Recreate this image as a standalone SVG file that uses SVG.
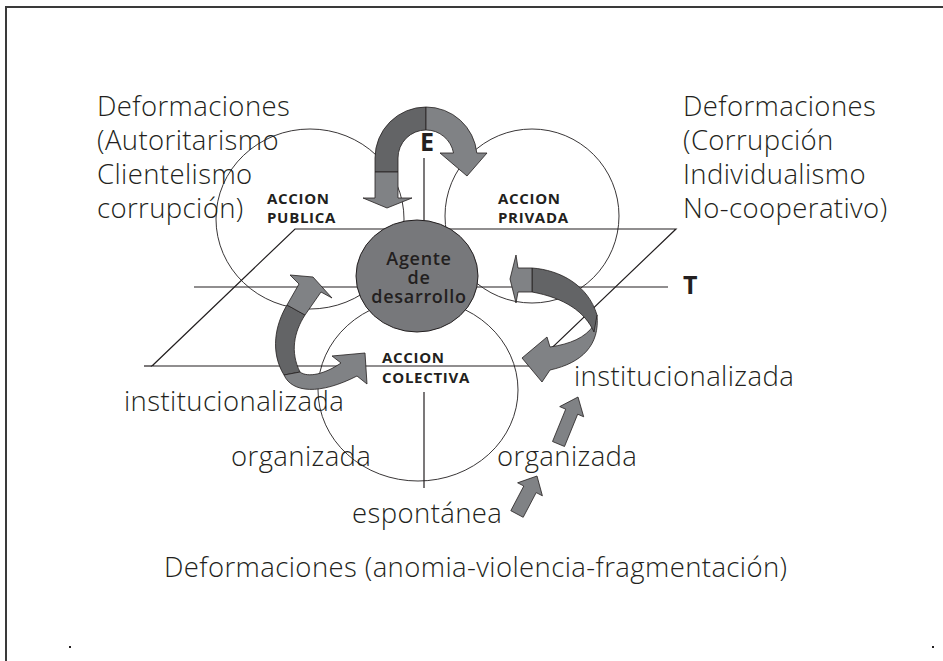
<svg xmlns="http://www.w3.org/2000/svg" width="943" height="661" viewBox="0 0 943 661">
<style>
.frame{stroke:#3a3a3a;stroke-width:2;fill:none}
.ln{stroke:#231f20;stroke-width:1.2;fill:none}
.circ{stroke:#231f20;stroke-width:0.9;fill:none}
.light{fill:#808285;stroke:#231f20;stroke-width:0.8;stroke-linejoin:round}
.dark{fill:#636466;stroke:#231f20;stroke-width:0.8;stroke-linejoin:round}
.big{font-family:"Open Sans","Liberation Sans",sans-serif;font-weight:300;font-size:27.5px;letter-spacing:0.4px;fill:#231f20}
.lab{font-family:"Open Sans","Liberation Sans",sans-serif;font-weight:700;font-size:15px;letter-spacing:0.7px;fill:#231f20}
.axis{font-family:"Open Sans","Liberation Sans",sans-serif;font-weight:700;font-size:25px;fill:#231f20}
.agt{font-family:"Open Sans","Liberation Sans",sans-serif;font-weight:600;font-size:18px;letter-spacing:0.7px;fill:#231f20;text-anchor:middle}
</style>
<rect width="943" height="661" fill="#ffffff"/>
<g id="frame">
<line class="frame" x1="6" y1="7" x2="943" y2="7"/>
<line class="frame" x1="6" y1="6" x2="6" y2="661"/>
<rect x="69" y="646" width="2" height="2" fill="#231f20"/>
<rect x="932" y="646" width="2" height="2" fill="#231f20"/>
</g>
<g id="axes">
<polygon class="ln" points="295,229 676,229 533,366 152,366"/>
<line class="ln" x1="144" y1="366" x2="152" y2="366"/>
<line class="ln" x1="194" y1="287" x2="668" y2="287"/>
<line class="ln" x1="424" y1="158" x2="424" y2="222"/>
<line class="ln" x1="424" y1="392" x2="424" y2="488"/>
<text class="axis" x="420" y="151">E</text>
<text class="axis" x="683" y="294">T</text>
</g>
<g id="accion-publica">
<ellipse class="circ" cx="310" cy="219" rx="94" ry="90"/>
<text class="lab" x="267" y="204">ACCION</text>
<text class="lab" x="267" y="223">PUBLICA</text>
</g>
<g id="accion-privada">
<ellipse class="circ" cx="532" cy="216" rx="87" ry="87"/>
<text class="lab" x="498" y="204">ACCION</text>
<text class="lab" x="498" y="223">PRIVADA</text>
</g>
<g id="accion-colectiva">
<ellipse class="circ" cx="418" cy="390" rx="100" ry="91"/>
<text class="lab" x="382" y="363">ACCION</text>
<text class="lab" x="382" y="383">COLECTIVA</text>
</g>
<g id="agente">
<ellipse cx="417" cy="276" rx="61" ry="56" fill="#77787b" stroke="#231f20" stroke-width="1"/>
<text class="agt" x="419" y="265">Agente</text>
<text class="agt" x="419" y="284">de</text>
<text class="agt" x="419" y="303">desarrollo</text>
</g>
<g id="connectors">
<path class="dark" d="M375,172 L375,158 A51,51 0 0 1 426,107 L426,130 A28,28 0 0 0 398,158 L398,172 Z"/>
<path class="light" d="M426,107 A51,51 0 0 1 476.8,153 L487,153 L467,176 L440,153 L453.5,153 A28,28 0 0 0 426,130 Z"/>
<path class="light" d="M375,172 L398,172 L398,198 L412,198 L387,208 L363,198 L375,198 Z"/>
<path class="light" d="M597,315 C600,345 582,363 550,370 L542,382 L522,358 L547,337 L550,347 C570,344 585,338 594,325 Z"/>
<path class="dark" d="M532,268 C560,270 588,285 597,315 L594,332 C585,312 565,298 532,292 Z"/>
<path class="light" d="M516,255 L510,279 L516,303 L518,292 L532,292 L532,268 L518,268 Z"/>
<path class="dark" d="M287,305 C275,325 270,352 284,375 L300,372 C290,352 294,332 305,315 Z"/>
<path class="light" d="M287,305 L299,284 L290,275 L313,277 L332,298 L321,292 L305,315 Z"/>
<path class="light" d="M284,375 C292,393 320,395 357,376 L367,384 L365,353 L332,356 L341,363 C325,374 308,378 300,372 Z"/>
<polygon class="light" points="552.5,441.5 565.7,409.2 559.7,406.6 578,397 583.7,416.8 577.7,414.2 564.5,446.5"/>
<polygon class="light" points="510.8,510.7 523.8,486 517.6,482.8 537,476 542.4,495.8 536.2,492.6 523.2,517.3"/>
</g>
<g id="deformaciones-publica">
<text class="big" x="97" y="116">Deformaciones</text>
<text class="big" x="97" y="150">(Autoritarismo</text>
<text class="big" x="97" y="184">Clientelismo</text>
<text class="big" x="97" y="218">corrupción)</text>
</g>
<g id="deformaciones-privada">
<text class="big" x="683" y="116">Deformaciones</text>
<text class="big" x="683" y="150">(Corrupción</text>
<text class="big" x="683" y="184">Individualismo</text>
<text class="big" x="683" y="218">No-cooperativo)</text>
</g>
<g id="niveles">
<text class="big" x="124" y="411">institucionalizada</text>
<text class="big" x="231" y="466">organizada</text>
<text class="big" x="574" y="386">institucionalizada</text>
<text class="big" x="497" y="466">organizada</text>
<text class="big" x="352" y="523">espontánea</text>
</g>
<g id="deformaciones-colectiva">
<text class="big" x="164" y="577">Deformaciones (anomia-violencia-fragmentación)</text>
</g>
</svg>
